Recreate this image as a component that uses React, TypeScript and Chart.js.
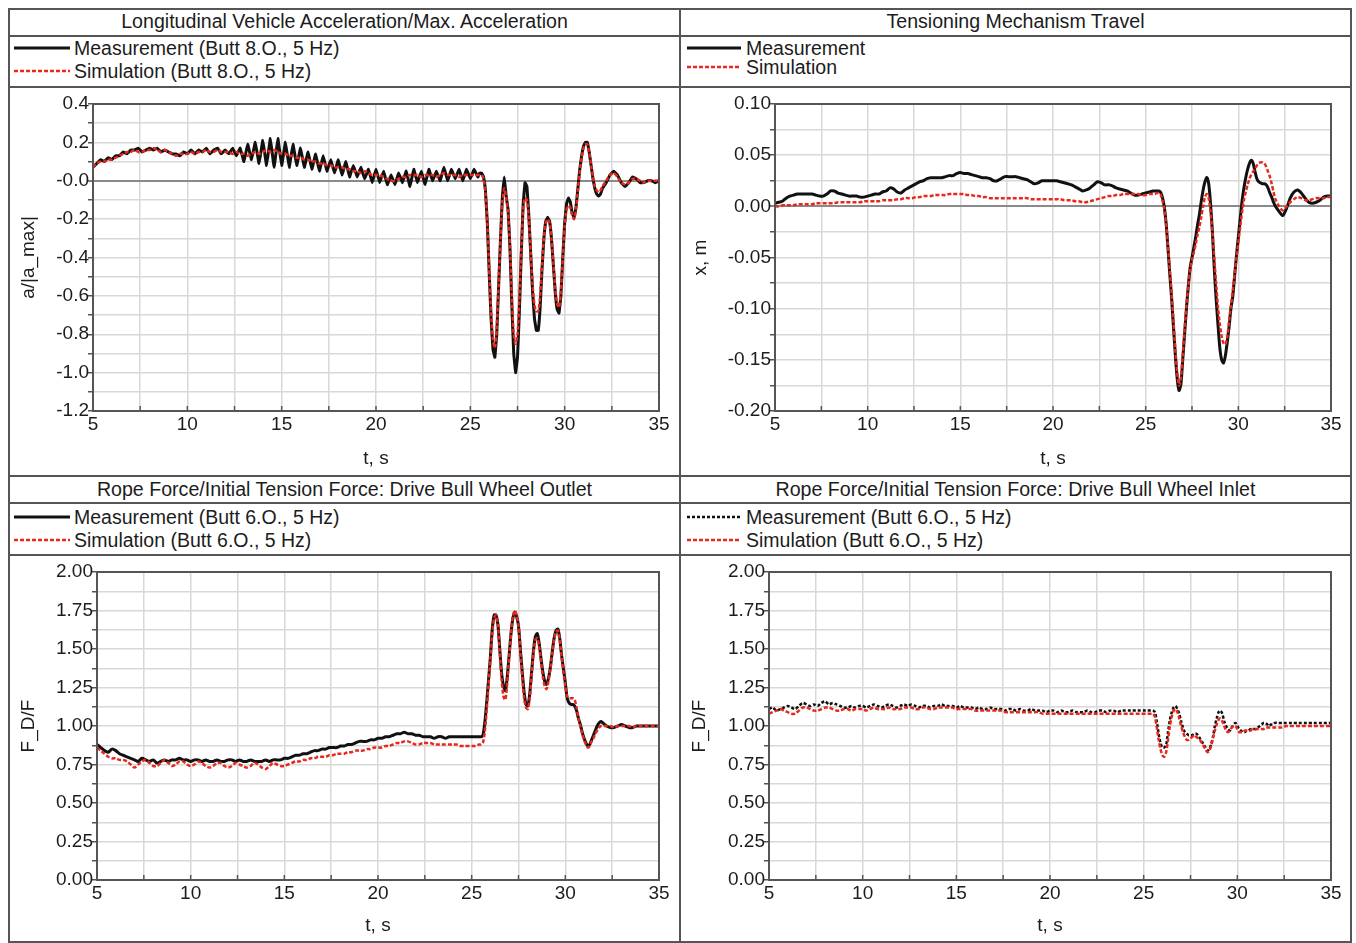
import React, { useEffect, useRef } from "react";
import { Chart, registerables } from "chart.js";
Chart.register(...registerables);

const FONT = '"Liberation Sans", Arial, Helvetica, sans-serif';
Chart.defaults.font.family = FONT;

// time samples (s)
const T = [
  5, 5.2, 5.4, 5.6, 5.8, 6, 6.2, 6.4, 6.6, 6.8, 7, 7.2, 7.4, 7.6, 7.8, 8, 8.2, 8.4, 8.6, 8.8, 9, 9.2, 9.4, 9.6, 9.8,
  10, 10.2, 10.4, 10.6, 10.8, 11, 11.2, 11.4, 11.6, 11.8, 12, 12.2, 12.4, 12.6, 12.8, 13, 13.2, 13.4, 13.6, 13.8, 14, 14.2, 14.4, 14.6, 14.8,
  15, 15.2, 15.4, 15.6, 15.8, 16, 16.2, 16.4, 16.6, 16.8, 17, 17.2, 17.4, 17.6, 17.8, 18, 18.2, 18.4, 18.6, 18.8, 19, 19.2, 19.4, 19.6, 19.8,
  20, 20.2, 20.4, 20.6, 20.8, 21, 21.2, 21.4, 21.6, 21.8, 22, 22.2, 22.4, 22.6, 22.8, 23, 23.2, 23.4, 23.6, 23.8, 24, 24.2, 24.4, 24.6, 24.8,
  25, 25.2, 25.4,
  25.5, 25.6, 25.7, 25.8, 25.9, 26, 26.1, 26.2, 26.3, 26.4,
  26.5, 26.6, 26.7, 26.8, 26.9, 27, 27.1, 27.2, 27.3, 27.4,
  27.5, 27.6, 27.7, 27.8, 27.9, 28, 28.1, 28.2, 28.3, 28.4,
  28.5, 28.6, 28.7, 28.8, 28.9, 29, 29.1, 29.2, 29.3, 29.4,
  29.5, 29.6, 29.7, 29.8, 29.9, 30, 30.1, 30.2, 30.3, 30.4,
  30.5, 30.6, 30.7, 30.8, 30.9, 31, 31.1, 31.2, 31.3, 31.4,
  31.5, 31.6, 31.7, 31.8, 31.9, 32,
  32.2, 32.4, 32.6, 32.8, 33, 33.2, 33.4, 33.6, 33.8, 34, 34.2, 34.4, 34.6, 34.8, 35,
];

// Longitudinal vehicle acceleration / max acceleration
const accMeas = [
  0.07, 0.09, 0.11, 0.10, 0.12, 0.11, 0.13, 0.13, 0.15, 0.14, 0.16, 0.16, 0.17, 0.15, 0.16, 0.17, 0.16, 0.17, 0.15, 0.16, 0.15, 0.14, 0.14, 0.13, 0.15,
  0.14, 0.16, 0.14, 0.16, 0.15, 0.17, 0.14, 0.16, 0.17, 0.14, 0.16, 0.14, 0.17, 0.13, 0.17, 0.10, 0.19, 0.11, 0.20, 0.09, 0.21, 0.08, 0.22, 0.07, 0.22,
  0.08, 0.20, 0.07, 0.19, 0.08, 0.17, 0.07, 0.15, 0.06, 0.14, 0.05, 0.13, 0.05, 0.11, 0.04, 0.11, 0.03, 0.10, 0.02, 0.08, 0.02, 0.07, 0.01, 0.06, -0.01,
  0.06, -0.01, 0.05, -0.02, 0.03, -0.02, 0.04, -0.01, 0.05, -0.03, 0.06, -0.01, 0.05, -0.02, 0.06, 0.00, 0.05, 0.00, 0.07, 0.00, 0.06, 0.01, 0.06, 0.00, 0.06,
  0.01, 0.06, 0.02,
  0.04, 0.04, 0.02, -0.05, -0.22, -0.48, -0.72, -0.88, -0.92, -0.80,
  -0.55, -0.30, -0.08, 0.02, -0.08, -0.15, -0.35, -0.65, -0.90, -1.00,
  -0.92, -0.68, -0.38, -0.12, -0.01, -0.03, -0.18, -0.38, -0.58, -0.72,
  -0.78, -0.78, -0.66, -0.46, -0.30, -0.21, -0.19, -0.21, -0.30, -0.44,
  -0.58, -0.67, -0.69, -0.60, -0.40, -0.22, -0.12, -0.09, -0.11, -0.17,
  -0.19, -0.14, -0.04, 0.06, 0.13, 0.18, 0.20, 0.20, 0.15, 0.08,
  0.01, -0.04, -0.07, -0.08, -0.07, -0.04,
  -0.01, 0.03, 0.05, 0.03, -0.01, -0.03, -0.01, 0.02, 0.01, -0.01, -0.01, 0.00, 0.00, -0.01, 0.00,
];
const accSim = [
  0.07, 0.09, 0.10, 0.10, 0.11, 0.11, 0.12, 0.13, 0.14, 0.15, 0.15, 0.16, 0.15, 0.15, 0.16, 0.16, 0.17, 0.16, 0.15, 0.16, 0.15, 0.14, 0.13, 0.14, 0.14,
  0.14, 0.15, 0.14, 0.15, 0.15, 0.16, 0.15, 0.15, 0.16, 0.15, 0.15, 0.15, 0.14, 0.15, 0.14, 0.14, 0.13, 0.14, 0.15, 0.14, 0.15, 0.16, 0.15, 0.16, 0.15,
  0.14, 0.14, 0.13, 0.13, 0.12, 0.12, 0.11, 0.11, 0.10, 0.10, 0.09, 0.09, 0.08, 0.08, 0.07, 0.07, 0.07, 0.06, 0.06, 0.05, 0.05, 0.04, 0.05, 0.04, 0.03,
  0.03, 0.03, 0.02, 0.01, 0.00, 0.00, 0.01, 0.02, 0.02, 0.03, 0.03, 0.03, 0.02, 0.03, 0.03, 0.03, 0.02, 0.03, 0.04, 0.03, 0.03, 0.03, 0.02, 0.03, 0.03,
  0.03, 0.03, 0.03,
  0.03, 0.03, 0.01, -0.06, -0.22, -0.46, -0.68, -0.83, -0.87, -0.77,
  -0.54, -0.30, -0.11, -0.04, -0.09, -0.16, -0.34, -0.60, -0.80, -0.85,
  -0.80, -0.62, -0.36, -0.15, -0.09, -0.10, -0.20, -0.38, -0.54, -0.65,
  -0.68, -0.68, -0.60, -0.44, -0.30, -0.22, -0.20, -0.22, -0.30, -0.43,
  -0.56, -0.64, -0.66, -0.58, -0.40, -0.24, -0.15, -0.13, -0.14, -0.18,
  -0.20, -0.15, -0.05, 0.05, 0.12, 0.17, 0.19, 0.19, 0.15, 0.08,
  0.02, -0.03, -0.05, -0.06, -0.05, -0.03,
  0.00, 0.03, 0.04, 0.02, -0.01, -0.02, -0.01, 0.01, 0.01, 0.00, -0.01, 0.00, 0.00, 0.00, 0.00,
];

// Tensioning mechanism travel (m)
const travelMeas = [
  0.003, 0.004, 0.005, 0.008, 0.010, 0.011, 0.012, 0.012, 0.012, 0.012, 0.012, 0.011, 0.010, 0.010, 0.012, 0.015, 0.015, 0.013, 0.012, 0.011, 0.010, 0.010, 0.010, 0.009, 0.009,
  0.010, 0.011, 0.012, 0.012, 0.014, 0.015, 0.018, 0.017, 0.014, 0.013, 0.016, 0.018, 0.020, 0.022, 0.024, 0.025, 0.027, 0.028, 0.028, 0.028, 0.028, 0.029, 0.030, 0.030, 0.032,
  0.033, 0.032, 0.032, 0.031, 0.030, 0.029, 0.028, 0.028, 0.027, 0.025, 0.025, 0.027, 0.029, 0.029, 0.029, 0.029, 0.028, 0.027, 0.026, 0.024, 0.022, 0.023, 0.025, 0.025, 0.025,
  0.025, 0.025, 0.024, 0.023, 0.022, 0.021, 0.019, 0.017, 0.015, 0.016, 0.018, 0.021, 0.024, 0.023, 0.021, 0.021, 0.020, 0.018, 0.017, 0.016, 0.015, 0.013, 0.011, 0.011, 0.012,
  0.013, 0.014, 0.015,
  0.015, 0.015, 0.015, 0.014, 0.009, 0.000, -0.016, -0.040, -0.066, -0.090,
  -0.118, -0.145, -0.168, -0.180, -0.174, -0.150, -0.125, -0.100, -0.078, -0.060,
  -0.050, -0.040, -0.030, -0.018, -0.008, 0.005, 0.016, 0.024, 0.028, 0.022,
  0.003, -0.025, -0.060, -0.090, -0.115, -0.138, -0.150, -0.153, -0.146, -0.133,
  -0.118, -0.100, -0.088, -0.068, -0.048, -0.030, -0.012, 0.005, 0.018, 0.028,
  0.036, 0.042, 0.045, 0.042, 0.034, 0.027, 0.024, 0.023, 0.022, 0.022,
  0.021, 0.018, 0.013, 0.009, 0.004, 0.000,
  -0.005, -0.009, -0.002, 0.008, 0.014, 0.016, 0.013, 0.008, 0.004, 0.003, 0.004, 0.006, 0.009, 0.010, 0.010,
];
const travelSim = [
  0.000, 0.000, 0.001, 0.001, 0.001, 0.001, 0.002, 0.002, 0.002, 0.002, 0.002, 0.003, 0.003, 0.003, 0.003, 0.003, 0.003, 0.004, 0.004, 0.004, 0.004, 0.004, 0.004, 0.004, 0.005,
  0.005, 0.005, 0.005, 0.005, 0.006, 0.006, 0.006, 0.006, 0.007, 0.007, 0.008, 0.008, 0.008, 0.009, 0.009, 0.010, 0.010, 0.010, 0.011, 0.011, 0.011, 0.011, 0.012, 0.012, 0.012,
  0.012, 0.012, 0.011, 0.011, 0.010, 0.010, 0.009, 0.009, 0.008, 0.008, 0.008, 0.008, 0.008, 0.008, 0.008, 0.008, 0.008, 0.008, 0.008, 0.007, 0.007, 0.007, 0.007, 0.007, 0.007,
  0.007, 0.007, 0.007, 0.006, 0.006, 0.006, 0.005, 0.005, 0.004, 0.004, 0.005, 0.006, 0.007, 0.008, 0.009, 0.010, 0.010, 0.011, 0.011, 0.012, 0.012, 0.012, 0.012, 0.012, 0.011,
  0.011, 0.012, 0.012,
  0.012, 0.013, 0.013, 0.012, 0.006, -0.002, -0.016, -0.038, -0.062, -0.085,
  -0.112, -0.140, -0.162, -0.175, -0.168, -0.145, -0.120, -0.098, -0.078, -0.062,
  -0.052, -0.045, -0.037, -0.028, -0.020, -0.010, 0.000, 0.009, 0.012, 0.008,
  -0.005, -0.025, -0.050, -0.075, -0.098, -0.115, -0.127, -0.134, -0.135, -0.128,
  -0.112, -0.097, -0.082, -0.066, -0.050, -0.035, -0.020, -0.006, 0.006, 0.014,
  0.021, 0.027, 0.031, 0.034, 0.037, 0.040, 0.042, 0.043, 0.043, 0.042,
  0.039, 0.034, 0.029, 0.022, 0.014, 0.007,
  0.000, -0.004, 0.000, 0.004, 0.007, 0.009, 0.008, 0.006, 0.006, 0.007, 0.008, 0.008, 0.008, 0.009, 0.009,
];

// Rope force / initial tension: drive bull wheel outlet
const outletMeas = [
  0.88, 0.86, 0.84, 0.83, 0.85, 0.84, 0.82, 0.81, 0.80, 0.79, 0.78, 0.77, 0.79, 0.78, 0.77, 0.78, 0.76, 0.77, 0.78, 0.77, 0.78, 0.78, 0.79, 0.78, 0.78,
  0.77, 0.78, 0.78, 0.77, 0.78, 0.77, 0.77, 0.78, 0.77, 0.77, 0.78, 0.78, 0.77, 0.78, 0.77, 0.77, 0.78, 0.77, 0.77, 0.77, 0.78, 0.77, 0.78, 0.78, 0.78,
  0.79, 0.79, 0.80, 0.81, 0.81, 0.82, 0.82, 0.83, 0.84, 0.84, 0.85, 0.85, 0.86, 0.86, 0.86, 0.87, 0.87, 0.88, 0.88, 0.89, 0.90, 0.90, 0.90, 0.91, 0.91,
  0.92, 0.92, 0.93, 0.93, 0.94, 0.95, 0.95, 0.96, 0.95, 0.95, 0.94, 0.94, 0.93, 0.93, 0.93, 0.92, 0.93, 0.93, 0.92, 0.93, 0.93, 0.93, 0.93, 0.93, 0.93,
  0.93, 0.93, 0.93,
  0.93, 0.94, 1.02, 1.15, 1.30, 1.45, 1.63, 1.72, 1.72, 1.66,
  1.50, 1.34, 1.26, 1.23, 1.32, 1.46, 1.60, 1.70, 1.74, 1.71,
  1.65, 1.50, 1.35, 1.22, 1.14, 1.13, 1.21, 1.35, 1.49, 1.58,
  1.60, 1.54, 1.44, 1.35, 1.29, 1.27, 1.31, 1.38, 1.48, 1.57,
  1.62, 1.63, 1.57, 1.46, 1.37, 1.28, 1.18, 1.15, 1.14, 1.14,
  1.13, 1.10, 1.05, 1.01, 0.96, 0.92, 0.89, 0.87, 0.88, 0.91,
  0.94, 0.97, 1.00, 1.02, 1.03, 1.02,
  1.00, 0.99, 0.99, 1.00, 1.01, 1.00, 0.99, 0.99, 1.00, 1.00, 1.00, 1.00, 1.00, 1.00, 1.00,
];
const outletSim = [
  0.86, 0.84, 0.82, 0.80, 0.79, 0.79, 0.78, 0.78, 0.77, 0.75, 0.73, 0.75, 0.77, 0.78, 0.76, 0.74, 0.74, 0.76, 0.78, 0.76, 0.74, 0.75, 0.77, 0.77, 0.75,
  0.74, 0.75, 0.77, 0.76, 0.74, 0.73, 0.74, 0.76, 0.76, 0.74, 0.73, 0.74, 0.76, 0.75, 0.74, 0.73, 0.74, 0.76, 0.75, 0.73, 0.72, 0.74, 0.76, 0.75, 0.74,
  0.74, 0.75, 0.76, 0.77, 0.77, 0.78, 0.78, 0.79, 0.79, 0.80, 0.80, 0.80, 0.81, 0.81, 0.82, 0.82, 0.82, 0.83, 0.83, 0.84, 0.84, 0.84, 0.85, 0.85, 0.86,
  0.86, 0.86, 0.87, 0.87, 0.88, 0.89, 0.89, 0.90, 0.90, 0.89, 0.88, 0.88, 0.89, 0.89, 0.89, 0.88, 0.88, 0.88, 0.88, 0.88, 0.88, 0.88, 0.87, 0.87, 0.87,
  0.87, 0.87, 0.88,
  0.88, 0.89, 0.96, 1.10, 1.27, 1.43, 1.60, 1.70, 1.72, 1.66,
  1.48, 1.30, 1.19, 1.17, 1.28, 1.44, 1.60, 1.71, 1.75, 1.72,
  1.65, 1.48, 1.32, 1.18, 1.12, 1.11, 1.18, 1.33, 1.47, 1.56,
  1.57, 1.52, 1.42, 1.32, 1.26, 1.24, 1.29, 1.37, 1.47, 1.56,
  1.61, 1.62, 1.56, 1.45, 1.35, 1.26, 1.19, 1.18, 1.18, 1.18,
  1.17, 1.12, 1.05, 1.00, 0.95, 0.91, 0.88, 0.86, 0.87, 0.90,
  0.92, 0.95, 0.97, 0.99, 1.00, 1.00,
  1.00, 1.00, 0.99, 1.00, 1.00, 1.00, 1.00, 0.99, 1.00, 1.00, 1.00, 1.00, 1.00, 1.00, 1.00,
];

// Rope force / initial tension: drive bull wheel inlet
const inletMeas = [
  1.11, 1.12, 1.10, 1.11, 1.12, 1.13, 1.12, 1.11, 1.13, 1.15, 1.14, 1.13, 1.14, 1.13, 1.15, 1.16, 1.14, 1.15, 1.14, 1.13, 1.12, 1.12, 1.13, 1.12, 1.13,
  1.13, 1.12, 1.13, 1.14, 1.13, 1.12, 1.13, 1.14, 1.13, 1.12, 1.13, 1.14, 1.13, 1.14, 1.13, 1.12, 1.13, 1.13, 1.12, 1.13, 1.13, 1.14, 1.13, 1.13, 1.13,
  1.12, 1.13, 1.12, 1.12, 1.12, 1.11, 1.12, 1.11, 1.11, 1.12, 1.11, 1.11, 1.11, 1.10, 1.11, 1.11, 1.10, 1.11, 1.10, 1.10, 1.11, 1.10, 1.10, 1.10, 1.09,
  1.10, 1.10, 1.09, 1.10, 1.09, 1.09, 1.10, 1.09, 1.09, 1.09, 1.10, 1.09, 1.09, 1.10, 1.10, 1.09, 1.10, 1.10, 1.09, 1.10, 1.10, 1.10, 1.10, 1.10, 1.10,
  1.10, 1.10, 1.10,
  1.10, 1.09, 1.03, 0.95, 0.89, 0.86, 0.86, 0.88, 0.96, 1.04,
  1.09, 1.12, 1.13, 1.11, 1.08, 1.03, 0.99, 0.96, 0.95, 0.94,
  0.94, 0.94, 0.95, 0.95, 0.94, 0.92, 0.90, 0.88, 0.86, 0.84,
  0.85, 0.88, 0.93, 1.00, 1.05, 1.09, 1.10, 1.08, 1.03, 1.00,
  0.98, 0.97, 0.99, 1.01, 1.02, 1.00, 0.98, 0.97, 0.96, 0.96,
  0.97, 0.97, 0.98, 0.98, 0.98, 0.98, 0.99, 1.00, 1.01, 1.02,
  1.02, 1.01, 1.00, 1.01, 1.01, 1.02,
  1.02, 1.02, 1.02, 1.02, 1.02, 1.02, 1.02, 1.02, 1.02, 1.02, 1.02, 1.02, 1.02, 1.02, 1.02,
];
const inletSim = [
  1.08, 1.09, 1.10, 1.11, 1.10, 1.09, 1.08, 1.08, 1.10, 1.12, 1.12, 1.11, 1.10, 1.10, 1.11, 1.12, 1.12, 1.11, 1.10, 1.10, 1.11, 1.11, 1.10, 1.11, 1.11,
  1.11, 1.10, 1.11, 1.12, 1.11, 1.11, 1.11, 1.12, 1.11, 1.11, 1.11, 1.12, 1.12, 1.12, 1.11, 1.11, 1.12, 1.12, 1.11, 1.11, 1.12, 1.12, 1.12, 1.12, 1.12,
  1.11, 1.11, 1.11, 1.11, 1.11, 1.10, 1.10, 1.10, 1.10, 1.10, 1.10, 1.10, 1.10, 1.09, 1.09, 1.09, 1.09, 1.09, 1.09, 1.09, 1.09, 1.09, 1.09, 1.08, 1.08,
  1.08, 1.08, 1.08, 1.08, 1.08, 1.08, 1.08, 1.08, 1.08, 1.08, 1.08, 1.08, 1.08, 1.08, 1.08, 1.08, 1.08, 1.08, 1.08, 1.08, 1.08, 1.08, 1.08, 1.08, 1.08,
  1.08, 1.08, 1.08,
  1.08, 1.06, 0.99, 0.91, 0.85, 0.81, 0.80, 0.83, 0.91, 1.00,
  1.06, 1.10, 1.11, 1.09, 1.05, 1.00, 0.96, 0.93, 0.91, 0.91,
  0.92, 0.93, 0.94, 0.93, 0.92, 0.91, 0.89, 0.87, 0.85, 0.83,
  0.84, 0.87, 0.92, 0.97, 1.01, 1.04, 1.05, 1.03, 1.00, 0.97,
  0.96, 0.97, 0.99, 1.00, 1.00, 0.98, 0.96, 0.96, 0.96, 0.97,
  0.97, 0.97, 0.97, 0.98, 0.98, 0.98, 0.98, 0.98, 0.98, 0.98,
  0.99, 0.99, 0.99, 0.99, 0.99, 0.99,
  0.99, 0.99, 1.00, 1.00, 1.00, 1.00, 1.00, 1.00, 1.00, 1.00, 1.00, 1.00, 1.00, 1.00, 1.00,
];

const X_MIN = 5;
const X_MAX = 35;
const X_STEP = 2.5;

const BLACK = "#111111";
const RED = "#e8281c";
const TEXT = "#1c1c1c";
const LINE = "#555555";

type Panel = {
  title: string;
  measLabel: string;
  simLabel: string;
  yTitle: string;
  yMin: number;
  yMax: number;
  yStep: number;
  fmt: (v: number) => string;
  zeroLine: boolean;
  meas: number[];
  sim: number[];
  measDash: number[];
  measTension: number;
  px: number;
  titleY: number;
  legendY: [number, number];
  sampleX: number;
  sampleW: number;
  textX: number;
  canvasTop: number;
  canvasH: number;
  yWidth: number;
  padRight: number;
  xHeight: number;
  yTitlePad: number;
  xTitlePad: number;
};

const PANELS: Panel[] = [
  {
    title: "Longitudinal Vehicle Acceleration/Max. Acceleration",
    measLabel: "Measurement (Butt 8.O., 5 Hz)",
    simLabel: "Simulation (Butt 8.O., 5 Hz)",
    yTitle: "a/|a_max|",
    yMin: -1.2, yMax: 0.4, yStep: 0.1,
    fmt: (v) => (Math.abs(v) < 1e-9 ? "-0.0" : v.toFixed(1)),
    zeroLine: true, meas: accMeas, sim: accSim, measDash: [], measTension: 0.05,
    px: 10, titleY: 9, legendY: [48, 71], sampleX: 14, sampleW: 56, textX: 74,
    canvasTop: 88, canvasH: 387, yWidth: 83, padRight: 20, xHeight: 64, yTitlePad: 7, xTitlePad: 5,
  },
  {
    title: "Tensioning Mechanism Travel",
    measLabel: "Measurement",
    simLabel: "Simulation",
    yTitle: "x, m",
    yMin: -0.2, yMax: 0.1, yStep: 0.025,
    fmt: (v) => (Math.abs(v) < 1e-9 ? "0.00" : v.toFixed(2)),
    zeroLine: true, meas: travelMeas, sim: travelSim, measDash: [], measTension: 0.25,
    px: 681, titleY: 9, legendY: [48, 67], sampleX: 687, sampleW: 54, textX: 746,
    canvasTop: 88, canvasH: 387, yWidth: 94, padRight: 19, xHeight: 64, yTitlePad: 8, xTitlePad: 5,
  },
  {
    title: "Rope Force/Initial Tension Force: Drive Bull Wheel Outlet",
    measLabel: "Measurement (Butt 6.O., 5 Hz)",
    simLabel: "Simulation (Butt 6.O., 5 Hz)",
    yTitle: "F_D/F",
    yMin: 0, yMax: 2, yStep: 0.125,
    fmt: (v) => (Math.abs(v) < 1e-9 ? "0.00" : v.toFixed(2)),
    zeroLine: false, meas: outletMeas, sim: outletSim, measDash: [], measTension: 0.25,
    px: 10, titleY: 477, legendY: [517, 540], sampleX: 14, sampleW: 56, textX: 74,
    canvasTop: 556, canvasH: 385, yWidth: 87, padRight: 20, xHeight: 61, yTitlePad: 7, xTitlePad: 4,
  },
  {
    title: "Rope Force/Initial Tension Force: Drive Bull Wheel Inlet",
    measLabel: "Measurement (Butt 6.O., 5 Hz)",
    simLabel: "Simulation (Butt 6.O., 5 Hz)",
    yTitle: "F_D/F",
    yMin: 0, yMax: 2, yStep: 0.125,
    fmt: (v) => (Math.abs(v) < 1e-9 ? "0.00" : v.toFixed(2)),
    zeroLine: false, meas: inletMeas, sim: inletSim, measDash: [3, 2], measTension: 0.25,
    px: 681, titleY: 477, legendY: [517, 540], sampleX: 687, sampleW: 54, textX: 746,
    canvasTop: 556, canvasH: 385, yWidth: 88, padRight: 19, xHeight: 61, yTitlePad: 7, xTitlePad: 4,
  },
];

const PANEL_W = 669;

const framePlugin = {
  id: "frame",
  afterDatasetsDraw(chart: any) {
    const { ctx, chartArea: a, scales } = chart;
    ctx.save();
    // small tick marks on the bottom axis pointing into the plot
    const xs = scales.x;
    ctx.strokeStyle = LINE;
    ctx.lineWidth = 1.5;
    xs.ticks.forEach((t: any) => {
      const px = xs.getPixelForValue(t.value);
      ctx.beginPath();
      ctx.moveTo(px, a.bottom);
      ctx.lineTo(px, a.bottom - 5);
      ctx.stroke();
    });
    ctx.lineWidth = 2;
    ctx.strokeRect(a.left, a.top, a.right - a.left, a.bottom - a.top);
    ctx.restore();
  },
};

function Plot({ p }: { p: Panel }) {
  const ref = useRef<HTMLCanvasElement>(null);
  useEffect(() => {
    if (!ref.current) return;
    const isZero = (ctx: any) => p.zeroLine && ctx.tick && Math.abs(ctx.tick.value) < 1e-9;
    const chart = new Chart(ref.current, {
      type: "line",
      data: {
        datasets: [
          {
            label: p.measLabel,
            data: T.map((t, i) => ({ x: t, y: p.meas[i] })),
            borderColor: BLACK,
            borderWidth: p.measDash.length ? 2.5 : 3,
            borderDash: p.measDash,
            pointRadius: 0,
            tension: p.measTension,
            order: 2,
          },
          {
            label: p.simLabel,
            data: T.map((t, i) => ({ x: t, y: p.sim[i] })),
            borderColor: RED,
            borderWidth: 2.5,
            borderDash: [4, 2],
            pointRadius: 0,
            tension: 0.25,
            order: 1,
          },
        ],
      },
      options: {
        animation: false,
        responsive: true,
        maintainAspectRatio: false,
        devicePixelRatio: 1,
        layout: { padding: { top: 16, right: p.padRight, left: 0, bottom: 0 } },
        plugins: { legend: { display: false }, tooltip: { enabled: false }, title: { display: false } },
        scales: {
          x: {
            type: "linear",
            min: X_MIN,
            max: X_MAX,
            ticks: {
              stepSize: X_STEP,
              autoSkip: false,
              maxRotation: 0,
              padding: 2,
              color: TEXT,
              font: { size: 19, family: FONT },
              callback: (v: any, i: number) => (i % 2 === 0 ? String(Math.round(Number(v))) : ""),
            },
            grid: { color: "#d8d8d8", lineWidth: 1.5, drawTicks: false },
            border: { display: false },
            title: {
              display: true,
              text: "t, s",
              color: TEXT,
              font: { size: 19, family: FONT },
              padding: { top: 0, bottom: p.xTitlePad },
            },
            afterFit: (s: any) => {
              s.height = p.xHeight;
            },
          },
          y: {
            type: "linear",
            min: p.yMin,
            max: p.yMax,
            ticks: {
              stepSize: p.yStep,
              autoSkip: false,
              padding: -1,
              color: TEXT,
              font: { size: 19, family: FONT },
              callback: (v: any, i: number) => (i % 2 === 0 ? p.fmt(Number(v)) : ""),
            },
            grid: {
              color: (ctx: any) => (isZero(ctx) ? "#8a8a8a" : "#d8d8d8"),
              lineWidth: (ctx: any) => (isZero(ctx) ? 2 : 1.5),
              tickLength: 5,
              tickColor: LINE,
              tickWidth: 1.5,
            },
            border: { display: false },
            title: {
              display: true,
              text: p.yTitle,
              color: TEXT,
              font: { size: 19, family: FONT },
              padding: { top: p.yTitlePad, bottom: 0 },
            },
            afterFit: (s: any) => {
              s.width = p.yWidth;
            },
          },
        },
      },
      plugins: [framePlugin],
    } as any);
    return () => chart.destroy();
  }, [p]);

  return (
    <div style={{ position: "absolute", left: p.px, top: p.canvasTop, width: PANEL_W, height: p.canvasH }}>
      <canvas ref={ref} />
    </div>
  );
}

function LegendSample({ w, color, dash, width }: { w: number; color: string; dash: string; width: number }) {
  return (
    <svg width={w} height={8} style={{ display: "block" }}>
      <line x1={0} y1={4} x2={w} y2={4} stroke={color} strokeWidth={width} strokeDasharray={dash || undefined} />
    </svg>
  );
}

function PanelTexts({ p }: { p: Panel }) {
  const rows = [
    { label: p.measLabel, color: BLACK, dash: p.measDash.join(" "), width: p.measDash.length ? 2.5 : 3 },
    { label: p.simLabel, color: RED, dash: "4 2", width: 2.5 },
  ];
  return (
    <>
      <div
        style={{
          position: "absolute",
          left: p.px,
          top: p.titleY,
          width: PANEL_W,
          height: 25,
          lineHeight: "25px",
          textAlign: "center",
          fontFamily: FONT,
          fontSize: 19.6,
          color: TEXT,
          whiteSpace: "nowrap",
        }}
      >
        {p.title}
      </div>
      {rows.map((r, k) => (
        <div
          key={k}
          style={{
            position: "absolute",
            left: p.sampleX,
            top: p.legendY[k] - 11,
            height: 22,
            display: "flex",
            alignItems: "center",
            whiteSpace: "nowrap",
          }}
        >
          <LegendSample w={p.sampleW} color={r.color} dash={r.dash} width={r.width} />
          <span
            style={{
              marginLeft: p.textX - p.sampleX - p.sampleW,
              fontFamily: FONT,
              fontSize: 19.5,
              lineHeight: "22px",
              color: TEXT,
            }}
          >
            {r.label}
          </span>
        </div>
      ))}
    </>
  );
}

const hLine = (y: number) => (
  <div key={"h" + y} style={{ position: "absolute", left: 8, top: y, width: 1344, height: 2, background: LINE }} />
);

export default function App() {
  return (
    <div style={{ position: "fixed", left: 0, top: 0, width: 1356, height: 943, background: "#fff", overflow: "hidden" }}>
      <div
        style={{
          position: "absolute",
          left: 8,
          top: 8,
          width: 1344,
          height: 935,
          border: `2px solid ${LINE}`,
          boxSizing: "border-box",
        }}
      />
      <div style={{ position: "absolute", left: 679, top: 8, width: 2, height: 935, background: LINE }} />
      {[35, 86, 475, 502, 554].map(hLine)}
      {PANELS.map((p, i) => (
        <React.Fragment key={i}>
          <PanelTexts p={p} />
          <Plot p={p} />
        </React.Fragment>
      ))}
    </div>
  );
}
